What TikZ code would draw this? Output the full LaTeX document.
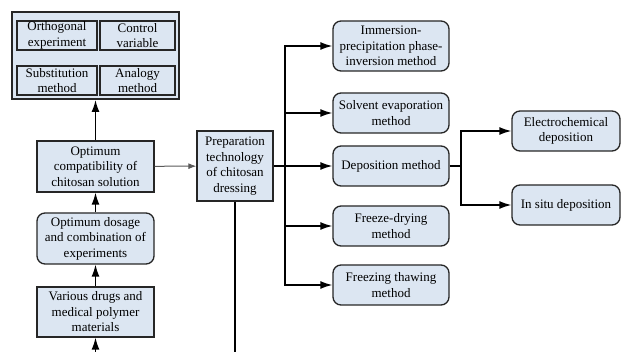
\documentclass[tikz,border=0pt]{standalone}
\usepackage{fontspec}
\setmainfont{Liberation Serif}
\usetikzlibrary{arrows.meta}
\definecolor{boxfill}{RGB}{220,230,242}

\begin{document}
\begin{tikzpicture}[x=1pt, y=-1pt,
	every node/.style={rectangle, draw=black!85, line width=1.3pt, fill=boxfill, align=center, inner sep=0pt, font=\rmfamily\fontsize{13}{15.5}\selectfont},
	rbox/.style={rounded corners=8pt},
	every path/.style={line width=1.4pt},
	arr/.style={-{Latex[length=12pt, width=8pt]}}]
	\useasboundingbox (0,0) rectangle (622,352);
	
	\node[minimum width=167pt, minimum height=87pt, line width=2pt] (methods) at (95.5,55.5){};
	\node[minimum width=80pt, minimum height=29pt] (orth) at (57,35.5){Orthogonal\\experiment};
	\node[minimum width=75pt, minimum height=29pt] (ctrl) at (137.5,35.5){Control\\variable};
	\node[minimum width=80pt, minimum height=29pt] (subst) at (57,80.5){Substitution\\method};
	\node[minimum width=75pt, minimum height=29pt] (analog) at (137.5,80.5){Analogy\\method};
	
	\node[minimum width=117pt, minimum height=51pt] (compat) at (95.5,166.5){Optimum\\compatibility of\\chitosan solution};
	\node[rbox, minimum width=117pt, minimum height=51pt] (dosage) at (95.5,238.5){Optimum dosage\\and combination of\\experiments};
	\node[minimum width=117pt, minimum height=50pt] (drugs) at (95.5,312){Various drugs and\\medical polymer\\materials};
	\node[minimum width=76pt, minimum height=70pt] (prep) at (235,166){Preparation\\technology\\of chitosan\\dressing};
	
	\node[rbox, minimum width=116pt, minimum height=50pt] (immers) at (391,46){Immersion-\\precipitation phase-\\inversion method};
	\node[rbox, minimum width=116pt, minimum height=40pt] (solvent) at (391,113){Solvent evaporation\\method};
	\node[rbox, minimum width=116pt, minimum height=40pt] (depos) at (391,166){Deposition method};
	\node[rbox, minimum width=116pt, minimum height=40pt] (freeze) at (391,226){Freeze-drying\\method};
	\node[rbox, minimum width=116pt, minimum height=40pt] (thaw) at (391,285){Freezing thawing\\method};
	
	\node[rbox, minimum width=108pt, minimum height=40pt] (electro) at (566,131){Electrochemical\\deposition};
	\node[rbox, minimum width=108pt, minimum height=40pt] (insitu) at (566,205){In situ deposition};
	
	\coordinate (in) at (95.5,352);
	\coordinate (out) at (235,352);
	\coordinate (j1) at (285,166);
	\coordinate (j2) at (461,166);
	
	\path (compat) edge[arr] (methods);
	\path (dosage) edge[arr] (compat);
	\path (drugs) edge[arr] (dosage);
	\path (in) edge[arr] (drugs);
	\path (prep) edge (out);
	\path (compat) edge[draw=black!65, line width=1pt, -{Latex[length=8pt, width=6pt]}] (prep);
	
	\draw (prep) -- (j1);
	\draw[arr] (j1) |- (immers);
	\draw[arr] (j1) |- (solvent);
	\draw[arr] (j1) -- (depos);
	\draw[arr] (j1) |- (freeze);
	\draw[arr] (j1) |- (thaw);
	
	\draw (depos) -- (j2);
	\draw[arr] (j2) |- (electro);
	\draw[arr] (j2) |- (insitu);
\end{tikzpicture}
\end{document}
